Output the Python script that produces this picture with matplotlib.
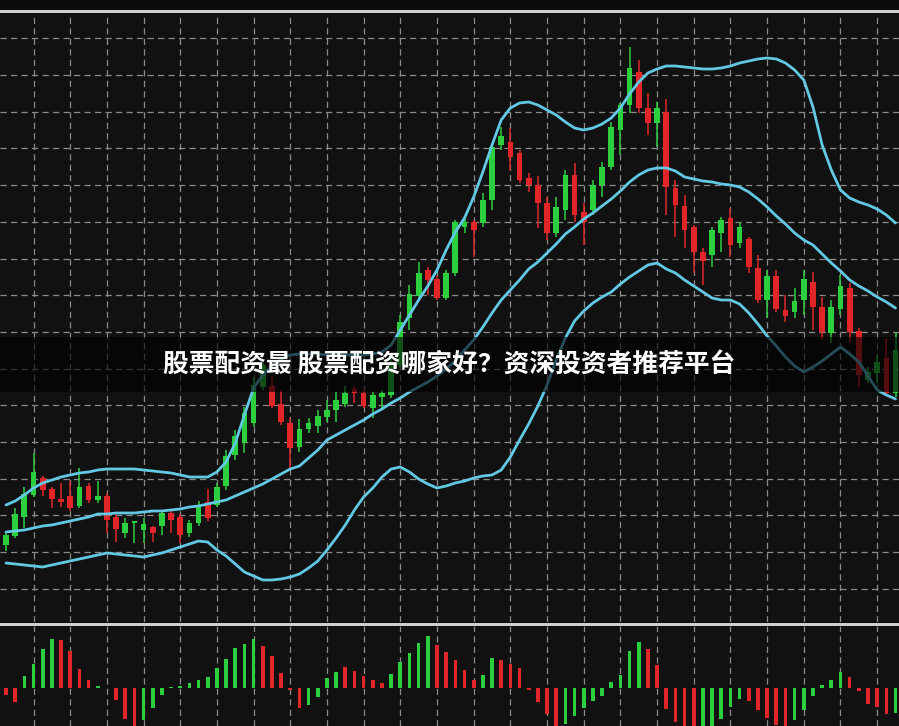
import matplotlib
matplotlib.use("Agg")
import matplotlib.pyplot as plt
import numpy as np
from matplotlib.patches import Rectangle

# daily OHLC
opens = [15.5, 16.4, 18.3, 20.5, 22.2, 21.1, 20.1, 20.4, 19.4, 21.4,
         20.0, 20.4, 18.3, 16.7, 17.7, 17.0, 17.3, 17.4, 18.7, 18.3,
         16.7, 17.7, 19.8, 19.5, 21.4, 24.5, 25.7, 27.7, 31.3, 31.4,
         29.6, 27.7, 25.3, 27.1, 27.4, 28.3, 29.0, 29.6, 31.1, 30.7,
         29.2, 30.3, 30.5, 33.5, 38.2, 40.4, 43.0, 42.1, 40.2, 42.7,
         47.3, 47.8, 47.7, 50.0, 55.5, 55.8, 54.7, 52.2, 51.5, 49.7,
         46.7, 49.0, 52.5, 48.8, 49.0, 51.5, 53.3, 57.0, 59.5, 62.8,
         59.2, 57.7, 58.8, 51.2, 49.4, 47.3, 44.8, 44.5, 46.7, 48.2,
         45.7, 46.1, 43.2, 40.0, 42.4, 39.0, 38.8, 40.0, 41.8, 39.3,
         36.7, 39.1, 41.2, 36.9, 32.0, 32.7, 34.2, 30.7]
highs = [16.7, 19.2, 21.3, 24.7, 22.4, 21.3, 21.7, 21.9, 23.2, 21.7,
         21.9, 20.7, 18.8, 18.2, 17.9, 18.2, 17.4, 19.0, 19.0, 18.6,
         18.0, 19.9, 21.1, 21.7, 25.0, 27.0, 29.3, 32.3, 34.0, 32.3,
         31.0, 28.2, 28.1, 28.2, 29.0, 30.0, 30.8, 31.4, 31.4, 31.1,
         30.8, 31.0, 34.2, 38.5, 41.5, 43.8, 43.3, 42.4, 43.0, 48.0,
         48.2, 48.0, 50.7, 55.5, 57.3, 57.2, 55.0, 52.7, 52.4, 50.3,
         50.3, 53.0, 53.7, 49.7, 52.0, 53.8, 57.8, 59.7, 65.3, 64.0,
         60.7, 59.8, 60.1, 52.0, 50.5, 47.5, 45.2, 47.3, 48.3, 49.2,
         47.7, 46.3, 44.5, 43.0, 43.0, 40.5, 41.2, 43.0, 42.8, 40.3,
         40.0, 42.5, 41.7, 37.2, 33.3, 34.5, 36.2, 36.7]
lows = [14.9, 16.2, 17.2, 20.3, 20.4, 19.2, 19.3, 18.9, 19.2, 19.7,
        19.7, 16.7, 15.8, 16.2, 15.7, 15.7, 15.8, 16.5, 16.7, 15.7,
        16.3, 17.4, 17.9, 19.3, 21.0, 24.0, 24.7, 27.3, 31.0, 29.2,
        27.5, 23.0, 24.8, 26.7, 26.7, 27.8, 27.8, 29.3, 29.7, 29.2,
        28.2, 29.0, 30.2, 33.2, 37.0, 40.0, 40.5, 40.0, 40.0, 42.4,
        46.7, 44.3, 47.3, 49.0, 55.0, 53.0, 51.7, 50.8, 47.2, 46.0,
        46.3, 48.0, 47.8, 45.5, 48.5, 50.3, 53.0, 54.5, 58.7, 58.7,
        56.5, 55.3, 48.5, 46.3, 45.2, 42.7, 41.5, 43.3, 44.8, 44.3,
        45.2, 42.7, 39.7, 38.2, 38.8, 37.8, 38.2, 38.5, 37.0, 36.0,
        35.7, 38.5, 35.8, 31.3, 31.7, 31.7, 30.5, 30.3]
closes = [16.5, 18.6, 20.6, 22.8, 21.0, 20.1, 19.8, 19.2, 21.3, 20.0,
          20.4, 18.0, 17.1, 17.7, 17.9, 17.6, 16.7, 18.7, 18.0, 16.5,
          17.7, 19.5, 18.2, 21.3, 24.4, 26.4, 28.7, 31.5, 33.5, 29.4,
          27.8, 25.2, 27.1, 27.7, 28.4, 29.0, 30.0, 30.7, 30.7, 29.4,
          30.5, 30.7, 33.7, 37.8, 40.6, 42.7, 42.0, 40.2, 42.7, 47.8,
          47.8, 47.0, 50.0, 55.3, 56.4, 54.3, 52.0, 51.5, 49.7, 46.7,
          49.3, 52.5, 48.5, 47.8, 51.5, 53.3, 57.3, 59.5, 63.2, 59.2,
          57.7, 59.2, 51.3, 49.5, 47.0, 44.8, 43.9, 47.0, 48.0, 45.5,
          47.3, 43.3, 40.0, 42.4, 39.1, 38.4, 39.9, 42.1, 39.3, 36.8,
          39.3, 41.4, 36.8, 32.5, 32.8, 33.8, 30.7, 35.0]

# bollinger bands
boll_upper = [19.5, 19.9, 20.5, 21.2, 21.7, 22.0, 22.3, 22.5, 22.7, 22.8,
              23.0, 23.1, 23.1, 23.1, 23.1, 23.0, 22.9, 22.8, 22.7, 22.5,
              22.3, 22.3, 22.3, 22.8, 23.8, 25.7, 28.5, 31.2, 32.5, 33.4,
              34.1, 34.5, 34.6, 34.6, 34.6, 34.5, 34.5, 34.5, 34.5, 34.5,
              34.6, 34.8, 35.5, 37.0, 38.5, 40.0, 41.4, 43.0, 45.0, 46.8,
              48.2, 50.3, 52.8, 55.5, 58.0, 59.2, 59.7, 59.8, 59.5, 59.0,
              58.5, 57.8, 57.2, 57.0, 57.2, 57.6, 58.2, 59.2, 60.6, 61.8,
              62.7, 63.1, 63.4, 63.4, 63.3, 63.2, 63.1, 63.1, 63.2, 63.4,
              63.7, 63.9, 64.1, 64.2, 64.1, 63.7, 63.0, 62.0, 59.3, 55.5,
              53.0, 51.0, 50.2, 49.8, 49.5, 49.1, 48.5, 47.7]
boll_mid = [16.8, 16.9, 17.0, 17.2, 17.4, 17.5, 17.7, 17.9, 18.1, 18.3,
            18.6, 18.6, 18.7, 18.7, 18.7, 18.8, 18.9, 18.9, 19.0, 19.1,
            19.3, 19.4, 19.6, 19.8, 20.0, 20.4, 20.8, 21.2, 21.6, 22.1,
            22.6, 23.1, 23.4, 24.2, 25.0, 26.0, 26.5, 27.0, 27.5, 28.0,
            28.6, 29.1, 29.7, 30.2, 30.8, 31.3, 31.8, 32.4, 33.1, 33.9,
            35.0, 36.0, 37.3, 38.7, 40.0, 41.0, 42.0, 43.1, 43.8, 44.7,
            45.6, 46.6, 47.3, 48.1, 48.7, 49.4, 50.1, 50.9, 51.8, 52.5,
            53.0, 53.2, 53.2, 52.9, 52.3, 52.1, 51.9, 51.8, 51.6, 51.5,
            51.3, 50.8, 50.1, 49.3, 48.4, 47.6, 46.7, 46.0, 45.5, 44.6,
            43.7, 42.9, 42.0, 41.4, 40.9, 40.3, 39.8, 39.2]
boll_lower = [13.7, 13.6, 13.5, 13.4, 13.3, 13.5, 13.7, 13.9, 14.1, 14.3,
              14.5, 14.7, 14.6, 14.5, 14.4, 14.3, 14.5, 14.7, 15.0, 15.3,
              15.6, 15.9, 15.8, 15.0, 14.4, 13.6, 12.8, 12.4, 12.0, 12.0,
              12.1, 12.3, 12.6, 13.2, 13.9, 15.0, 16.2, 17.5, 19.0, 20.3,
              21.2, 22.3, 23.1, 23.3, 22.8, 22.1, 21.6, 21.2, 21.4, 21.7,
              21.9, 22.2, 22.4, 22.5, 23.0, 24.3, 26.0, 27.6, 29.4, 31.5,
              34.0, 36.2, 37.9, 38.9, 39.7, 40.3, 40.8, 41.6, 42.3, 42.9,
              43.5, 43.7, 43.1, 42.7, 42.0, 41.4, 40.8, 40.2, 40.0, 40.0,
              39.6, 38.7, 37.6, 36.4, 35.4, 34.3, 33.4, 32.8, 33.3, 33.9,
              34.6, 35.3, 34.6, 33.8, 32.4, 31.0, 30.5, 30.1]

# macd histogram and bar colouring (g = rising, r = falling)
macd_hist = [-0.7, -1.4, 1.2, 2.4, 3.9, 4.9, 4.8, 3.7, 1.9, 0.8,
             0.2, 0.0, -1.2, -3.1, -4.2, -3.2, -2.0, -0.7, 0.1, 0.2,
             0.5, 0.8, 1.1, 2.0, 2.9, 4.0, 4.4, 4.9, 4.2, 3.2,
             1.5, -0.2, -2.0, -1.7, -0.9, 1.0, 1.6, 2.1, 1.7, 1.2,
             0.8, 0.5, 1.4, 2.6, 3.5, 4.5, 5.2, 4.3, 3.6, 2.8,
             1.8, 0.8, 1.3, 3.0, 2.8, 2.4, 2.0, -0.2, -1.4, -2.6,
             -4.3, -3.6, -2.8, -2.0, -1.3, -0.8, 0.6, 1.3, 3.7, 4.6,
             3.9, 2.3, -2.1, -3.4, -4.4, -4.6, -4.5, -4.1, -3.1, -1.9,
             -1.1, -1.3, -2.2, -3.0, -3.7, -4.0, -3.2, -2.2, -0.8, 0.3,
             0.8, 1.6, 1.1, -0.3, -1.6, -1.9, -2.6, -2.5]
hist_dir = ("rrggggrrrr" "grrrrggggg" "ggggggggrr" "rrrggggrrr" "rrgggggrrr"
            "rrggrrrrrr" "rggggggggg" "rrrrrrgggg" "grrrrrgggg" "ggrrrrrg")

title = "股票配资最 股票配资哪家好？资深投资者推荐平台"

GREEN = "#2ccf3e"
RED = "#e02628"
BAND = "#62c8e4"
BG = "#111111"
GRID = "#8a8a8a"

W, H = 899, 726
fig = plt.figure(figsize=(W / 100, H / 100), dpi=100, facecolor="#0c0c0c")

ax = fig.add_axes([0, 104 / H, 1, 609 / H], facecolor=BG)
ax2 = fig.add_axes([0, 0, 1, 100 / H], facecolor=BG)

idx = np.arange(len(closes))
o = np.array(opens)
c = np.array(closes)
cols = np.where(c >= o, GREEN, RED)

# candles
ax.vlines(idx, lows, highs, colors=cols, linewidth=1.1, zorder=3)
ax.bar(idx, c - o, bottom=o, width=0.62, color=cols, linewidth=0, zorder=4)

# bands
for band in (boll_upper, boll_mid, boll_lower):
    ax.plot(idx, band, color=BAND, linewidth=2.0, zorder=5, solid_capstyle="round")

xlo, xhi = -0.654, 97.38
dash = (0, (5, 3.4))
ax.set_xlim(xlo, xhi)
ax.set_ylim(7.8, 68.7)
ax.set_xticks(np.arange(3, 98, 4))
ax.set_yticks(np.arange(66.17, 7.8, -3.67))
ax.grid(True, color=GRID, linestyle=dash, linewidth=0.9)
ax.set_axisbelow(True)

# histogram panel
hcols = [GREEN if d == "g" else RED for d in hist_dir]
ax2.bar(idx, macd_hist, width=0.4, color=hcols, linewidth=0, zorder=3)
ax2.set_xlim(xlo, xhi)
ax2.set_ylim(-3.83, 6.17)
ax2.set_xticks(np.arange(3, 98, 4))
ax2.set_yticks([])
ax2.grid(True, axis="x", color=GRID, linestyle=dash, linewidth=0.9)
ax2.set_axisbelow(True)

for a in (ax, ax2):
    a.tick_params(length=0, labelbottom=False, labelleft=False)
    for s in a.spines.values():
        s.set_visible(False)

# panel borders
fig.add_artist(Rectangle((0, (H - 13) / H), 1, 3 / H, transform=fig.transFigure,
                         color="#cfcfcf", linewidth=0))
fig.add_artist(Rectangle((0, (H - 626) / H), 1, 3 / H, transform=fig.transFigure,
                         color="#cfcfcf", linewidth=0))

# caption strip
fig.add_artist(Rectangle((0, (H - 392) / H), 1, 55 / H, transform=fig.transFigure,
                         color="black", alpha=0.62, linewidth=0, zorder=10))
fig.text(0.5, (H - 364.5) / H, title, ha="center", va="center", color="white",
         fontsize=18.5, fontweight="bold",
         family=["Noto Sans CJK SC", "DejaVu Sans"], zorder=11)

fig.savefig("out.png", dpi=100, facecolor=fig.get_facecolor())
